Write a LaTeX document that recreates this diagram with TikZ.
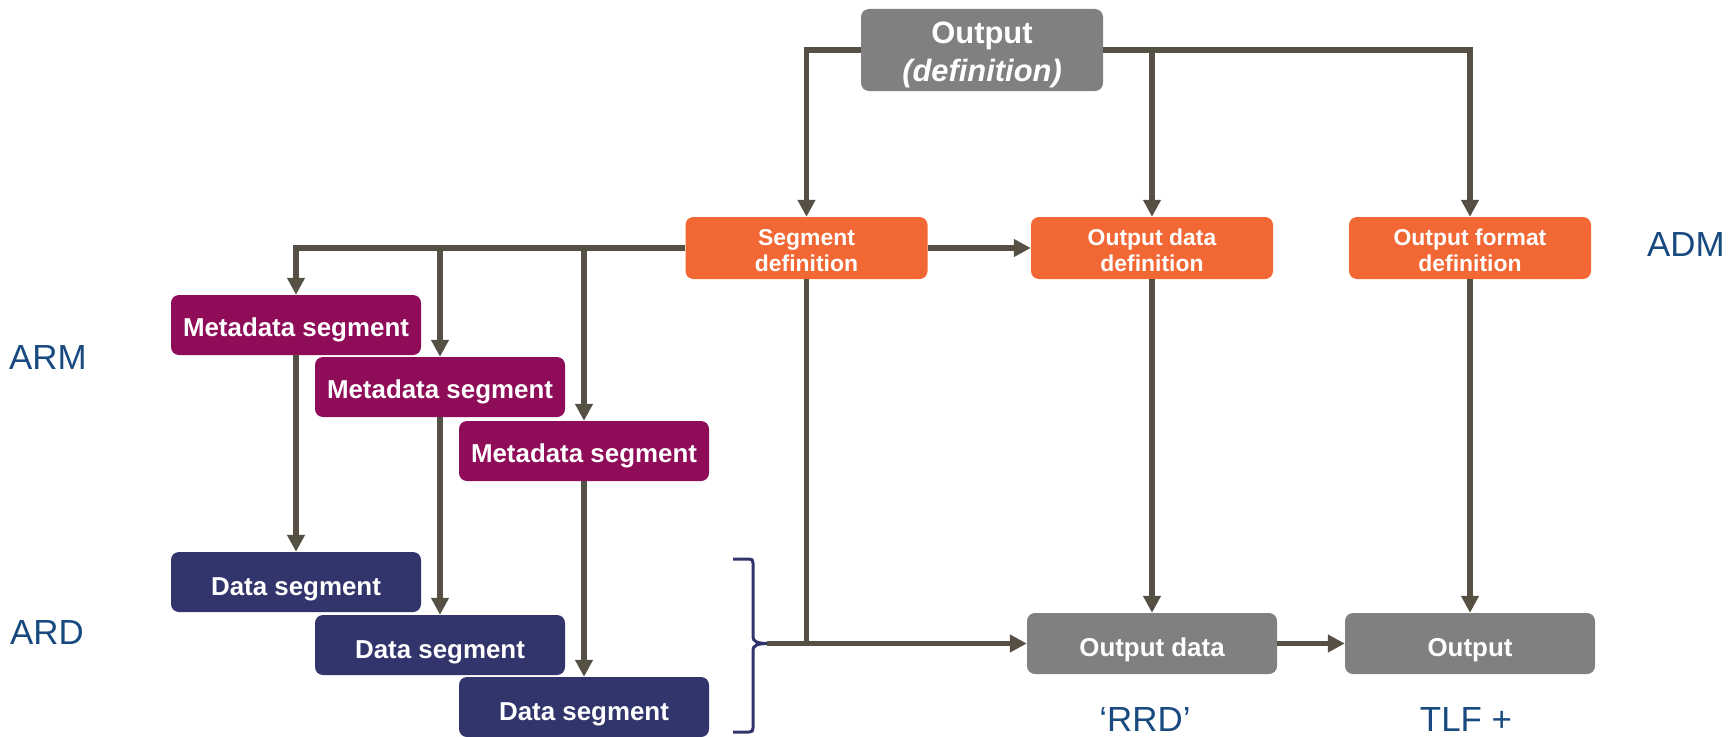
\documentclass[tikz,border=0pt]{standalone}
\usepackage{fontspec}
\setmainfont{Liberation Sans}
\usetikzlibrary{arrows.meta}

\definecolor{flow}{RGB}{85,80,67}
\definecolor{deforange}{RGB}{242,104,53}
\definecolor{metapurple}{RGB}{142,12,88}
\definecolor{datanavy}{RGB}{49,53,107}
\definecolor{boxgray}{RGB}{128,128,128}
\definecolor{labelblue}{RGB}{24,74,128}

% invisible strut that pushes the first line of a box label down
\newcommand\boxstrut[1]{\rule{0pt}{#1}}

\begin{document}
\begin{tikzpicture}[x=1bp,y=-1bp,
  box/.style={rectangle, rounded corners=8bp, inner sep=0pt, text=white,
    align=center, font=\bfseries\fontsize{26}{30}\selectfont},
  defbox/.style={box, fill=deforange, minimum width=242bp, minimum height=62bp,
    font=\bfseries\fontsize{23}{27}\selectfont},
  metabox/.style={box, fill=metapurple, minimum width=250bp, minimum height=60bp,
    text height=27.5bp, text depth=5bp},
  databox/.style={box, fill=datanavy, minimum width=250bp, minimum height=60bp,
    text height=31bp, text depth=5bp},
  graybox/.style={box, fill=boxgray, minimum width=250bp, minimum height=61bp,
    text height=31.8bp, text depth=5bp},
  layer/.style={text=labelblue, font=\fontsize{35}{40}\selectfont, inner sep=0pt},
  flowline/.style={draw=flow, line width=5.5bp},
  arr/.style={flowline, -{Triangle[width=17bp,length=17bp]}},
  bracket/.style={draw=datanavy, line width=3bp},
]
\useasboundingbox (0,0) rectangle (1729,737);

% top-level definition
\node[box, fill=boxgray, minimum width=242bp, minimum height=82bp,
  font=\bfseries\fontsize{31}{39}\selectfont] (outdef) at (982,50)
  {\boxstrut{31.5bp}Output\\\itshape(definition)};

% definition layer
\node[defbox] (segdef)  at (806.5,248) {\boxstrut{21.2bp}Segment\\definition};
\node[defbox] (odatdef) at (1152,248)  {\boxstrut{21.2bp}Output data\\definition};
\node[defbox] (fmtdef)  at (1470,248)  {\boxstrut{21.2bp}Output format\\definition};

% metadata segments
\node[metabox] (meta1) at (296,325) {Metadata segment};
\node[metabox] (meta2) at (440,387) {Metadata segment};
\node[metabox] (meta3) at (584,451) {Metadata segment};

% data segments
\node[databox] (data1) at (296,582) {Data segment};
\node[databox] (data2) at (440,645) {Data segment};
\node[databox] (data3) at (584,707) {Data segment};

% results
\node[graybox] (odata) at (1152,643.5) {Output data};
\node[graybox] (out)   at (1470,643.5) {Output};

% layer labels
\node[layer, anchor=west] (arm) at (9,358)  {ARM};
\node[layer, anchor=west] (ard) at (10,632) {ARD};
\node[layer, anchor=west] (adm) at (1647,245) {ADM};
\node[layer, anchor=base] (rrd) at (1145,731) {‘RRD’};
\node[layer, anchor=base] (tlf) at (1466,731) {TLF +};

% brace gathering the data segments
\coordinate (btip) at (767,643.5);
\draw[bracket] (733,559) -- (749,559) .. controls (752,559) and (753,560) .. (753,563)
  -- (753,637) .. controls (753,641) and (757,643.5) .. (btip)
  .. controls (757,643.5) and (753,646) .. (753,650)
  -- (753,728) .. controls (753,731) and (752,732) .. (749,732) -- (733,732);

% output definition fans out to the definition layer
\draw[arr] (outdef.west) -| (segdef.north);
\draw[arr] (outdef.east) -| (fmtdef.north);
\draw[arr] (odatdef.north |- outdef.east) -- (odatdef.north);

% segment definition drives the metadata segments
\draw[arr] (segdef.west) -| (meta1.north);
\draw[arr] (meta2.north |- segdef.west) -- (meta2.north);
\draw[arr] (meta3.north |- segdef.west) -- (meta3.north);
\draw[arr] (segdef.east) -- (odatdef.west);

% metadata to data
\draw[arr] (meta1.south) -- (data1.north);
\draw[arr] (meta2.south) -- (data2.north);
\draw[arr] (meta3.south) -- (data3.north);

% data and segment definition into output data
\draw[flowline] (segdef.south) -- (segdef.south |- btip);
\draw[arr] (btip) -- (odata.west);
\draw[arr] (odatdef.south) -- (odata.north);
\draw[arr] (fmtdef.south) -- (out.north);
\draw[arr] (odata.east) -- (out.west);
\end{tikzpicture}
\end{document}
